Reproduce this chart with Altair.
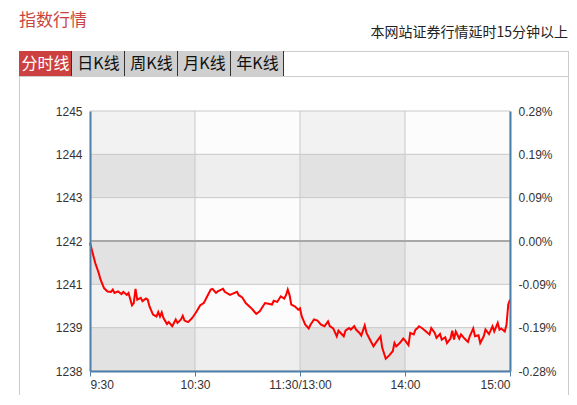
import altair as alt
import pandas as pd

# ---------------- data ----------------
PREV_CLOSE = 1242.3
PCT_RANGE = 0.28

minutes = [0, 3, 5, 6, 8, 10, 12, 13, 14, 16, 18, 19, 21, 22, 24, 25, 26, 27, 29, 30,
           32, 33, 34, 36, 38, 39, 40, 41, 42, 44, 45, 47, 49, 50, 52, 53, 54, 56, 58, 59,
           61, 63, 65, 66, 67, 69, 70, 72, 73, 75, 76, 77, 80, 81, 84, 85, 87, 89, 92, 93,
           95, 97, 100, 102, 104, 105, 107, 109, 111, 112, 113, 114, 115, 117, 119, 120, 121, 123, 125, 126,
           128, 130, 132, 134, 136, 137, 139, 141, 142, 145, 146, 148, 149, 151, 152, 154, 155, 157, 158, 160,
           162, 164, 166, 167, 169, 171, 173, 174, 175, 177, 179, 180, 182, 183, 185, 186, 187, 188, 190, 192,
           194, 195, 197, 198, 200, 201, 203, 204, 206, 207, 208, 209, 211, 212, 214, 216, 217, 219, 220, 222,
           223, 225, 226, 228, 230, 231, 233, 234, 235, 237, 238, 239, 240]
prices = [1242.25, 1241.71, 1241.44, 1241.27, 1241.04, 1240.95, 1240.94, 1241.00, 1240.91, 1240.95,
          1240.88, 1240.94, 1240.86, 1240.91, 1240.58, 1240.64, 1241.02, 1240.73, 1240.78, 1240.69,
          1240.76, 1240.73, 1240.55, 1240.33, 1240.28, 1240.40, 1240.28, 1240.39, 1240.24, 1240.08,
          1240.13, 1240.02, 1240.20, 1240.11, 1240.20, 1240.30, 1240.17, 1240.13, 1240.22, 1240.28,
          1240.42, 1240.58, 1240.64, 1240.73, 1240.82, 1241.00, 1241.02, 1240.91, 1240.95, 1241.00,
          1241.02, 1240.94, 1240.86, 1240.88, 1240.94, 1240.85, 1240.79, 1240.64, 1240.51, 1240.46,
          1240.35, 1240.42, 1240.64, 1240.62, 1240.60, 1240.70, 1240.67, 1240.82, 1240.76, 1240.85,
          1241.00, 1240.86, 1240.60, 1240.55, 1240.46, 1240.50, 1240.28, 1240.06, 1239.96, 1240.06,
          1240.20, 1240.17, 1240.06, 1240.02, 1240.15, 1240.02, 1239.96, 1239.75, 1239.90, 1239.75,
          1239.90, 1239.97, 1239.93, 1240.02, 1239.93, 1239.84, 1239.77, 1240.04, 1239.84, 1239.66,
          1239.48, 1239.62, 1239.75, 1239.44, 1239.15, 1239.24, 1239.35, 1239.57, 1239.48, 1239.57,
          1239.69, 1239.64, 1239.51, 1239.84, 1239.80, 1239.93, 1239.96, 1240.02, 1239.96, 1239.88,
          1239.80, 1239.97, 1239.84, 1239.71, 1239.81, 1239.66, 1239.72, 1239.57, 1239.69, 1239.90,
          1239.66, 1239.88, 1239.69, 1239.80, 1239.69, 1239.60, 1239.75, 1239.96, 1239.75, 1239.78,
          1239.57, 1239.75, 1239.93, 1239.81, 1240.02, 1239.88, 1240.11, 1239.93, 1239.96, 1239.88,
          1240.06, 1240.60, 1240.73]

x_tick_values = [0, 60, 120, 180, 240]
x_tick_labels = ["9:30", "10:30", "11:30/13:00", "14:00", "15:00"]
tick_steps = [-3, -2, -1, 0, 1, 2, 3]
pct_labels = ["-0.28%", "-0.19%", "-0.09%", "0.00%", "0.09%", "0.19%", "0.28%"]
tab_labels = ["分时线", "日K线", "周K线", "月K线", "年K线"]
title_text = "指数行情"
notice_text = "本网站证券行情延时15分钟以上"

# ---------------- derived tables ----------------
y_ticks = [PREV_CLOSE * (1 + PCT_RANGE / 3 * k / 100) for k in tick_steps]
y_min, y_max = y_ticks[0], y_ticks[-1]

line_df = pd.DataFrame({"m": minutes, "p": prices})

cells = []
for c in range(4):
    for r in range(6):  # r = 0 is the top row
        light_row = (r % 2 == 0)
        odd_col = (c % 2 == 0)
        if odd_col:
            col = "#f2f2f2" if light_row else "#e2e2e2"
        else:
            col = "#fcfcfc" if light_row else "#eeeeee"
        cells.append({"x": x_tick_values[c], "x2": x_tick_values[c + 1],
                      "y": y_ticks[6 - r], "y2": y_ticks[5 - r], "c": col})
cells_df = pd.DataFrame(cells)
hgrid_df = pd.DataFrame({"y": [v for k, v in zip(tick_steps, y_ticks) if k != 0]})
zero_df = pd.DataFrame({"y": [PREV_CLOSE]})
vgrid_df = pd.DataFrame({"x": x_tick_values[1:]})

xs = alt.Scale(domain=[0, 240], nice=False, zero=False)
ys = alt.Scale(domain=[y_min, y_max], nice=False, zero=False)

AXIS_BLUE = "#4d7fa8"
LABEL_FONT = "Liberation Sans"
CJK = "Noto Sans CJK SC"

x_expr = ("datum.value == 0 ? '%s' : datum.value == 60 ? '%s' : datum.value == 120 ? '%s' : "
          "datum.value == 180 ? '%s' : '%s'") % tuple(x_tick_labels)
pct_expr = ("[" + ",".join("'%s'" % s for s in pct_labels) + "]"
            "[round((datum.value/%s-1)*100/(%s/3))+3]" % (PREV_CLOSE, PCT_RANGE))

x_axis = alt.Axis(values=x_tick_values, labelExpr=x_expr, grid=False,
                  domainColor=AXIS_BLUE, domainWidth=2, tickColor=AXIS_BLUE,
                  tickSize=5, labelPadding=3, labelFontSize=12, labelFont=LABEL_FONT,
                  labelColor="#333333", zindex=2, title=None)

cells_layer = alt.Chart(cells_df).mark_rect().encode(
    x=alt.X("x:Q", scale=xs, axis=x_axis), x2="x2:Q",
    y=alt.Y("y:Q", scale=ys, axis=None), y2="y2:Q",
    color=alt.Color("c:N", scale=None))

hgrid = alt.Chart(hgrid_df).mark_rule(color="#c8c8c8", strokeWidth=1).encode(
    y=alt.Y("y:Q", scale=ys, axis=None))
zero_rule = alt.Chart(zero_df).mark_rule(color="#a8a8a8", strokeWidth=2).encode(
    y=alt.Y("y:Q", scale=ys, axis=None))
vgrid = alt.Chart(vgrid_df).mark_rule(color="#c8c8c8", strokeWidth=1).encode(
    x=alt.X("x:Q", scale=xs, axis=x_axis))

line = alt.Chart(line_df).mark_line(color="#ff0000", strokeWidth=2).encode(
    x=alt.X("m:Q", scale=xs, axis=x_axis),
    y=alt.Y("p:Q", scale=ys, title=None,
            axis=alt.Axis(values=y_ticks, labelExpr="floor(datum.value)", grid=False,
                          ticks=False, tickSize=0, labelPadding=8, domainColor=AXIS_BLUE,
                          domainWidth=2, labelFontSize=12, labelFont=LABEL_FONT,
                          labelColor="#333333", zindex=2)),
    order="m:Q")

right_axis = alt.Chart(line_df).mark_line(opacity=0).encode(
    x=alt.X("m:Q", scale=xs, axis=x_axis),
    y=alt.Y("p:Q", scale=ys, title=None,
            axis=alt.Axis(orient="right", values=y_ticks, labelExpr=pct_expr, grid=False,
                          ticks=False, tickSize=0, labelPadding=8, domainColor=AXIS_BLUE,
                          domainWidth=2, labelFontSize=12, labelFont=LABEL_FONT,
                          labelColor="#333333", zindex=2)))

# ---------------- page decorations (title, notice, tabs, frame) ----------------
dummy = pd.DataFrame({"a": [1]})


def rect(x1, y1, x2, y2, fill):
    return alt.Chart(dummy).mark_rect(fill=fill).encode(
        x=alt.value(x1), x2=alt.value(x2), y=alt.value(y1), y2=alt.value(y2))


def rule(x1, y1, x2, y2, color, w=1):
    return alt.Chart(dummy).mark_rule(color=color, strokeWidth=w).encode(
        x=alt.value(x1), x2=alt.value(x2), y=alt.value(y1), y2=alt.value(y2))


def text(s, x, y, **kw):
    return alt.Chart(dummy).mark_text(text=s, **kw).encode(x=alt.value(x), y=alt.value(y))


deco = []
deco.append(text(title_text, -71, -85.5, align="left", baseline="alphabetic",
                 font=CJK, fontSize=17, color="#c8453f"))
deco.append(text(notice_text, 478, -74, align="right", baseline="alphabetic",
                 font=CJK, fontSize=14, color="#222222"))
tab_w = 53
tab_x0 = -71
for i, lab in enumerate(tab_labels):
    x0 = tab_x0 + i * tab_w
    x1 = x0 + tab_w
    deco.append(rect(x0, -60, x1, -35, "#cc4040" if i == 0 else "#cfcfcf"))
    deco.append(text(lab, (x0 + x1) / 2, -47, align="center", baseline="middle",
                     font=CJK, fontSize=16, color="#ffffff" if i == 0 else "#111111"))
    deco.append(rule(x1 - 0.5, -60, x1 - 0.5, -35, "#333333"))
tabs_end = tab_x0 + len(tab_labels) * tab_w
deco.append(rule(tabs_end, -59.5, 478.5, -59.5, "#cccccc"))
deco.append(rule(478.5, -60, 478.5, 284, "#cccccc"))
deco.append(rule(-71, -34.5, 478.5, -34.5, "#cccccc"))
deco.append(rule(-70.5, -35, -70.5, 284, "#cccccc"))

chart = alt.layer(cells_layer, hgrid, vgrid, zero_rule, line, right_axis, *deco).resolve_scale(
    y="independent"
).properties(
    width=420, height=260,
    autosize=alt.AutoSizeParams(type="none"),
    padding={"left": 82, "top": 103, "right": 59, "bottom": 24},
    background="white",
).configure_view(stroke=None)

chart.save("out.html", embed_options={"renderer": "svg", "actions": False})
